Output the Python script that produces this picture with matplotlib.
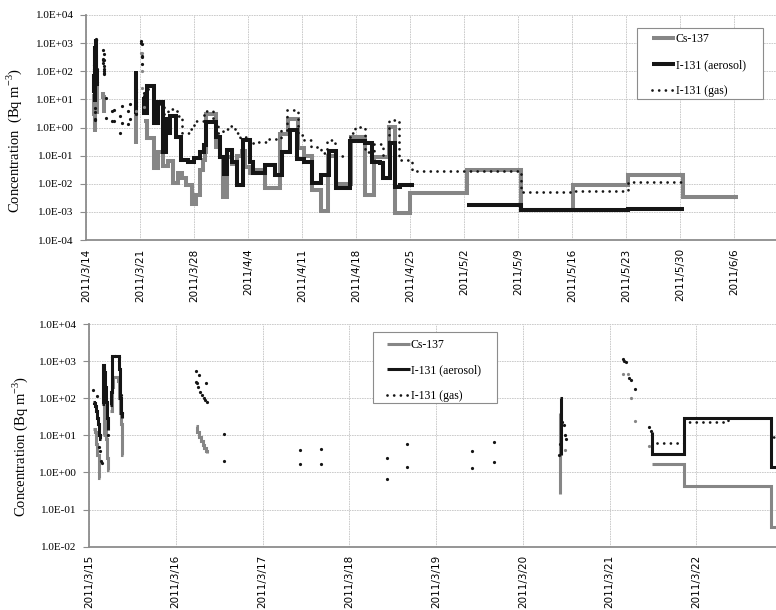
import numpy as np
import pandas as pd
import matplotlib
matplotlib.use('Agg')
import matplotlib.pyplot as plt
from matplotlib.patches import Rectangle
from matplotlib.ticker import FixedLocator, FuncFormatter, NullLocator

nan = np.nan

# time = days since 2011/3/14 00:00, value in Bq m-3, nan = no data (step series, value holds until next time)
cs_t = [1.05, 1.065, 1.08, 1.095, 1.11, 1.12, 1.13,
        1.16, 1.17, 1.18, 1.19, 1.20, 1.21, 1.22, 1.225,
        1.245, 1.26, 1.275, 1.30, 1.33, 1.345, 1.355, 1.365, 1.375, 1.385, 1.39,
        2.235, 2.25, 2.27, 2.29, 2.31, 2.33, 2.35, 2.36, 2.365,
        6.425, 6.43, 6.435,
        7.49, 7.86, 8.37, 8.86, 9.36, 10.0, 10.6, 11.3, 11.9, 12.4, 13.0, 13.7, 14.3,
        14.8, 15.1, 15.4, 15.6, 16.9, 17.3, 17.8, 18.3, 18.9, 19.5, 20.2, 20.6, 21.2,
        21.9, 23.2, 25.1, 26.2, 27.5, 28.2, 29.3, 30.4, 31.4, 32.4, 34.3, 36.2, 37.3,
        39.2, 40.0, 42.0, 49.3, 56.4, 63.1, 70.2, 77.3, 84.4]
cs_v = [15, 12, 6, 3, 1.5, 0.7, nan,
        10, 60, 80, 30, 8, 2.5, 1.2, nan,
        45, 200, 380, 380, 300, 100, 40, 20, 6, 3, nan,
        18, 12, 9, 7, 5.5, 4.5, 3.8, 3.4, nan,
        40, 0.26, nan,
        1.66, 0.43, 0.44, 0.035, 0.14, 0.042, 0.063, 0.011, 0.025, 0.016, 0.009, 0.0019, 0.004,
        0.03, 0.07, 0.14, 3.0, 0.2, 0.09, 0.0035, 0.09, 0.05, 0.1, 0.15, 0.04, 0.025,
        0.03, 0.007, 0.6, 2.0, 0.18, 0.1, 0.006, 0.0011, 0.1, 0.01, 0.47, 0.004, 0.09,
        1.07, 0.0009, 0.0046, 0.032, 0.0012, 0.009, 0.02, 0.0033, nan]

aer_t = [1.05, 1.06, 1.07, 1.08, 1.09, 1.10, 1.11, 1.12, 1.13, 1.135,
         1.155, 1.16, 1.165, 1.175, 1.185, 1.195, 1.205, 1.215, 1.222,
         1.24, 1.25, 1.26, 1.27, 1.345, 1.35, 1.355, 1.36, 1.365, 1.37, 1.375, 1.38,
         6.435, 6.44, 6.445,
         7.49, 7.495, 7.86, 8.86, 9.33, 10.0, 10.3, 10.6, 10.9, 11.6, 12.3, 13.2, 14.0,
         14.8, 15.3, 15.6, 16.9, 17.4, 17.9, 18.3, 18.9, 19.5, 20.3, 21.2, 21.6, 23.2,
         24.5, 25.4, 26.4, 27.3, 28.2, 29.3, 30.4, 31.5, 32.4, 34.2, 36.2, 37.0, 38.1,
         38.5, 39.4, 40.0, 40.7, 42.5, 49.3, 56.4, 70.2, 77.4]
aer_v = [80, 75, 60, 45, 30, 20, 14, 10, 8, nan,
         70, 300, 800, 500, 200, 80, 30, 14, nan,
         65, 150, 600, 1400, 1400, 600, 250, 100, 60, 40, 30, nan,
         100, 3, nan,
         12.5, 3.2, 29, 1.4, 8.3, 0.14, 2.0, 0.65, 2.5, 0.47, 0.07, 0.06, 0.08,
         0.14, 0.24, 1.6, 0.47, 0.09, 0.023, 0.16, 0.06, 0.009, 0.36, 0.06, 0.024, 0.045,
         0.02, 0.13, 0.79, 0.076, 0.059, 0.0105, 0.02, 0.15, 0.007, 0.32, 0.27, 0.06, 0.055,
         0.016, 0.28, 0.0075, 0.009, nan, 0.0017, 0.0012, 0.0013, nan]

gas_t = [7.55, 7.86, 8.37, 8.86, 9.5, 10.1, 10.6, 11.1, 11.8, 12.4, 13.3, 14.0, 15.3,
         16.5, 17.1, 17.8, 18.7, 19.3, 19.9, 20.6, 21.1, 21.9, 23.6, 25.3, 26.0, 27.5,
         28.3, 29.2, 30.5, 31.2, 32.3, 34.2, 34.9, 36.2, 37.3, 38.5, 39.2, 40.5, 42.2,
         56.4, 63.1, 70.2, 77.3]
gas_v = [6.4, 23, 29, 9, 7, 3, 4, 4.4, 2.5, 0.65, 0.85, 1.7, 3.8,
         1.5, 0.65, 0.85, 1.1, 0.65, 0.33, 0.45, 0.28, 0.3, 0.4, 0.8, 4.2, 0.54,
         0.35, 0.2, 0.12, 0.36, 0.1, 0.63, 1.07, 0.14, 0.25, 0.06, 1.8, 0.07, 0.028,
         0.0049, 0.0057, 0.012, nan]

# short samples that show up as single dots
gas_dot_t = [1.05, 1.09, 1.115, 1.127, 1.138, 1.15, 1.17, 1.19, 1.21, 1.22,
             1.27, 1.30, 1.35, 1.37, 1.38,
             2.23, 2.235, 2.25, 2.26, 2.27, 2.28, 2.30, 2.32, 2.34, 2.35, 2.355,
             2.56, 2.56, 3.43, 3.43, 3.68, 3.68, 4.43, 4.43, 4.66, 4.66,
             5.42, 5.42, 5.67, 5.67,
             6.42, 6.425, 6.455, 6.47, 6.49, 6.50,
             7.15, 7.17, 7.19]
gas_dot_v = [166, 117, 4.9, 3.7, 2.0, 1.8, 600, 200, 30, 10,
             1300, 1400, 1300, 120, 40,
             550, 270, 250, 200, 420, 150, 120, 100, 90, 250, 80,
             11, 2.1, 4.0, 1.7, 4.3, 1.7, 2.5, 0.66, 5.9, 1.4,
             3.8, 1.35, 6.8, 1.95,
             3, 6, 23, 19, 10, 8,
             1150, 1000, 930]
cs_dot_t = [6.49, 7.16, 7.21, 7.25, 7.29, 7.46]
cs_dot_v = [4, 440, 440, 100, 24.6, 5.3]
aer_dot_t = [7.23, 7.25, 7.29, 7.46, 7.48]
aer_dot_v = [350, 310, 180, 17, 13]

start = pd.Timestamp('2011-03-14')
gray = '#868686'
black = '#151515'
serif = 'Liberation Serif'


def date_label(d, pos):
    t = start + pd.Timedelta(days=float(d))
    return f"{t.year}/{t.month}/{t.day}"


def draw(ax, lw, ms):
    ax.plot(cs_t, cs_v, drawstyle='steps-post', color=gray, lw=lw,
            solid_joinstyle='miter', solid_capstyle='butt', label='Cs-137')
    ax.plot(aer_t, aer_v, drawstyle='steps-post', color=black, lw=lw,
            solid_joinstyle='miter', solid_capstyle='butt', label='I-131 (aerosol)')
    ax.plot(gas_t, gas_v, drawstyle='steps-post', color=black, lw=2.0,
            ls=(0, (0.01, 2.4)), dash_capstyle='round', label='I-131 (gas)')
    ax.plot(cs_dot_t, cs_dot_v, 'o', color=gray, ms=ms, mec='none')
    ax.plot(aer_dot_t, aer_dot_v, 'o', color=black, ms=ms, mec='none')
    ax.plot(gas_dot_t, gas_dot_v, 'o', color=black, ms=ms, mec='none')


def style(ax, xticks, ylim, ylabel, label_xy):
    ax.set_yscale('log')
    ax.set_ylim(*ylim)
    ax.xaxis.set_major_locator(FixedLocator(xticks))
    ax.xaxis.set_major_formatter(FuncFormatter(date_label))
    ax.xaxis.set_minor_locator(NullLocator())
    ax.yaxis.set_minor_locator(NullLocator())
    ax.yaxis.set_major_formatter(FuncFormatter(lambda v, p: f"{v:.1E}"))
    for lab in ax.get_xticklabels():
        lab.set_rotation(90)
        lab.set_fontfamily('DejaVu Sans')
        lab.set_fontsize(7.5)
    for lab in ax.get_yticklabels():
        lab.set_fontfamily(serif)
        lab.set_fontsize(8)
    ax.grid(True, color='#c4c4c4', lw=0.6, ls=(0, (2, 1)))
    ax.set_axisbelow(True)
    for s in ['top', 'right']:
        ax.spines[s].set_visible(False)
    for s in ['left', 'bottom']:
        ax.spines[s].set_color('#8c8c8c')
        ax.spines[s].set_linewidth(1.3)
    ax.tick_params(axis='y', length=4, color='#8c8c8c', pad=5)
    ax.tick_params(axis='x', length=0, pad=6)
    ax.set_ylabel(ylabel, fontfamily=serif, fontsize=10.5)
    ax.yaxis.set_label_coords(*label_xy)


def legend_box(ax, box, handle_x, first_row_y):
    # frame drawn separately so the inner padding can differ horizontally / vertically
    x0, y0, x1, y1 = box
    ax.add_patch(Rectangle((x0, y0), x1 - x0, y1 - y0, transform=ax.transAxes,
                           facecolor='white', edgecolor='#8c8c8c', lw=0.8, zorder=5))
    leg = ax.legend(loc='upper left', bbox_to_anchor=(handle_x, first_row_y),
                    prop={'family': serif, 'size': 8.5}, frameon=False,
                    handlelength=2.0, handletextpad=0.05, labelspacing=1.15,
                    borderpad=0, borderaxespad=0)
    leg.set_zorder(6)
    return leg


fig = plt.figure(figsize=(7.76, 6.10), dpi=100)

# top: whole period (axes runs past the right edge like the original)
ax1 = fig.add_axes([86 / 776, 370 / 610, 702.5 / 776, 225 / 610])
draw(ax1, 2.9, 2.3)
ax1.set_xlim(0, 91)
style(ax1, list(range(0, 85, 7)), (1e-4, 1e4),
      r'Concentration  (Bq m$^{\mathregular{-3}}$)', (-0.088, 0.44))
legend_box(ax1, (0.7839, 0.6253, 0.9641, 0.9436), 0.8053, 0.9178)

# bottom: 3/15 - 3/22
ax2 = fig.add_axes([89 / 776, 63.3 / 610, 694 / 776, 222.7 / 610])
draw(ax2, 2.2, 2.3)
ax2.set_xlim(1, 9)
style(ax2, list(range(1, 9)), (1e-2, 1e4),
      r'Concentration (Bq m$^{\mathregular{-3}}$)', (-0.085, 0.449))
legend_box(ax2, (0.4088, 0.6439, 0.5883, 0.9627), 0.429, 0.9326)

fig.savefig('out.png', dpi=100)
